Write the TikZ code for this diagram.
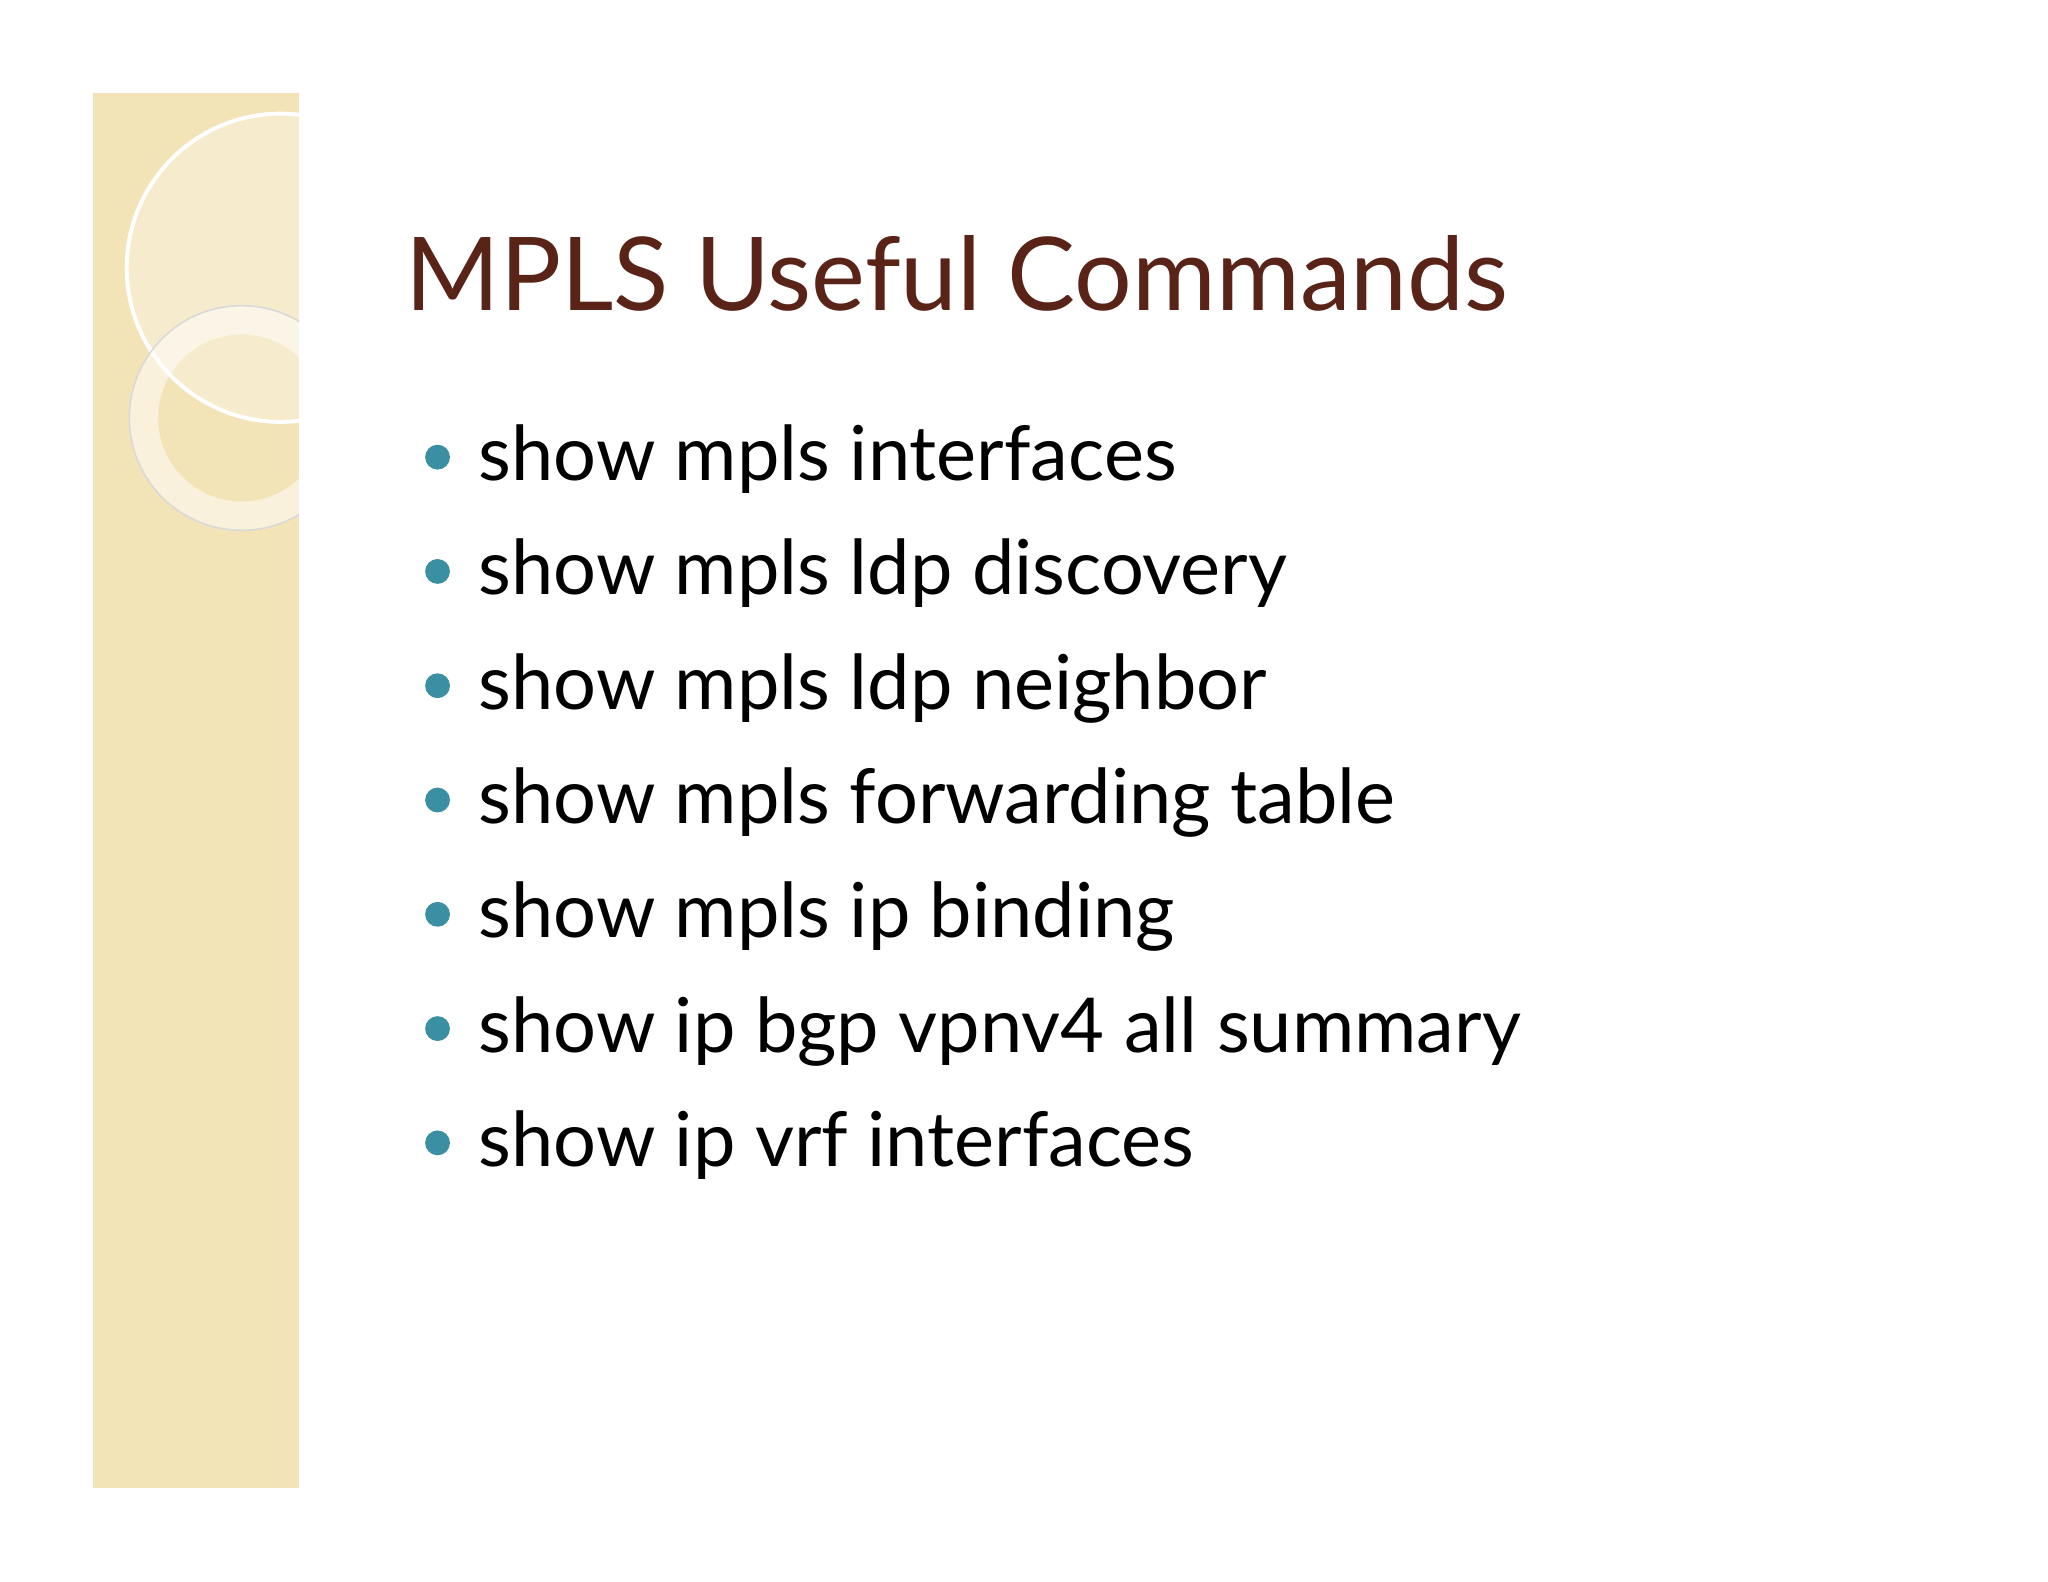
\documentclass[tikz,border=0pt]{standalone}
\usepackage{fontspec}
\setmainfont{Lato}
\definecolor{strip}{HTML}{F3E4B8}
\definecolor{titlec}{HTML}{5A2318}
\definecolor{bul}{HTML}{3A8FA3}
\begin{document}
\begin{tikzpicture}[x=0.5pt,y=-0.5pt,
  item/.style={anchor=base west,inner sep=0pt,font=\fontsize{29}{32}\selectfont},
  dot/.style={circle,fill=bul,inner sep=0pt,minimum size=9.5pt}]
\useasboundingbox (0,0) rectangle (1568,1211);
\fill[white] (0,0) rectangle (1568,1211);
\fill[strip] (71,71) rectangle (229,1139);
\begin{scope}
\clip (71,71) rectangle (229,1139);
\fill[white,opacity=0.3] (215,205) circle (118);
\draw[white,line width=1.5pt] (215,205) circle (118);
\draw[white,opacity=0.5,line width=11pt] (185,320) circle (75);
\draw[black!15,line width=0.6pt] (185,320) circle (86);
\end{scope}
\node[anchor=base west,inner sep=0pt,text=titlec,font=\fontsize{39}{43}\selectfont] (title) at (310,238) {MPLS Useful Commands};
\foreach \t [count=\i] in {show mpls interfaces,show mpls ldp discovery,show mpls ldp neighbor,show mpls forwarding table,show mpls ip binding,show ip bgp vpnv4 all summary,show ip vrf interfaces}{
  \node[item] (t\i) at (366,{368+87.5*(\i-1)}) {\t};
  \node[dot] (b\i) at (335,{350+87.5*(\i-1)}) {};
}
\end{tikzpicture}
\end{document}
